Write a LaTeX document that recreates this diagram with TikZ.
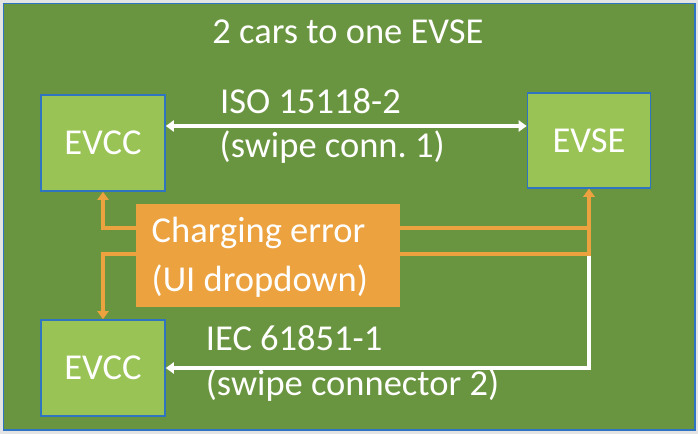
\documentclass[tikz,border=0pt]{standalone}
\usepackage{fontspec}
\setmainfont{Carlito}
\usetikzlibrary{arrows.meta}
\frenchspacing
\definecolor{bggreen}{HTML}{6A9540}
\definecolor{boxgreen}{HTML}{9AC356}
\definecolor{boxblue}{HTML}{2F74C0}
\definecolor{errorange}{HTML}{EBA23F}
\definecolor{margray}{HTML}{E4E4E4}
\tikzset{
  unit/.style={draw=boxblue, line width=1.6pt, fill=boxgreen, minimum width=124pt, minimum height=96pt, inner sep=0pt, text=white, font=\fontsize{36.5}{44}\selectfont},
  errbox/.style={fill=errorange, minimum width=264pt, minimum height=103pt, inner sep=0pt},
  lbl/.style={text=white, font=\fontsize{36.5}{44}\selectfont, anchor=base west, inner sep=0pt},
  wline/.style={draw=white, line width=3.4pt},
  oline/.style={draw=errorange, line width=3.4pt},
  tip/.style={-{Triangle[width=11pt,length=8pt]}},
}
\begin{document}
\begin{tikzpicture}[x=1pt,y=-1pt]
\useasboundingbox (0,0) rectangle (698,434);
\fill[margray] (0,0) rectangle (698,434);
\draw[boxblue, line width=1.6pt, fill=bggreen] (3.5,3.5) rectangle (695,430);
\node[lbl, anchor=base] (title) at (348,43) {2 cars to one EVSE};
\node[unit] (evcc1) at (103,143) {EVCC};
\node[unit, minimum width=123pt, minimum height=95pt] (evse) at (589,140.5) {EVSE};
\node[unit] (evcc2) at (103,368) {EVCC};
\node[errbox] (err) at (268,255.5) {};
\node[lbl] (errt1) at (151.5,242.5) {Charging error};
\node[lbl] (errt2) at (151.5,291) {(UI dropdown)};
\node[lbl] (iso) at (220,113.5) {ISO 15118-2};
\node[lbl] (sw1) at (219.5,157) {(swipe conn.\ 1)};
\node[lbl] (iec) at (205.7,350) {IEC 61851-1};
\node[lbl] (sw2) at (205.7,395) {(swipe connector 2)};
\coordinate (isoy) at (0,126);
% ISO link
\draw[wline, {Triangle[width=11pt,length=8pt]}-{Triangle[width=11pt,length=8pt]}] (evcc1.east |- isoy) -- (evse.west |- isoy);
% IEC link
\coordinate (lowy) at (0,254);
\coordinate (upy) at (0,228);
\draw[wline, tip] (evse.south |- lowy) |- (evcc2.east);
% error links
\draw[oline, tip] (err.west |- upy) -| (evcc1.south);
\draw[oline, tip] (err.west |- lowy) -| (evcc2.north);
\draw[oline, tip] (err.east |- lowy) -| (evse.south);
\draw[oline, tip] (err.east |- upy) -| (evse.south);
\end{tikzpicture}
\end{document}
